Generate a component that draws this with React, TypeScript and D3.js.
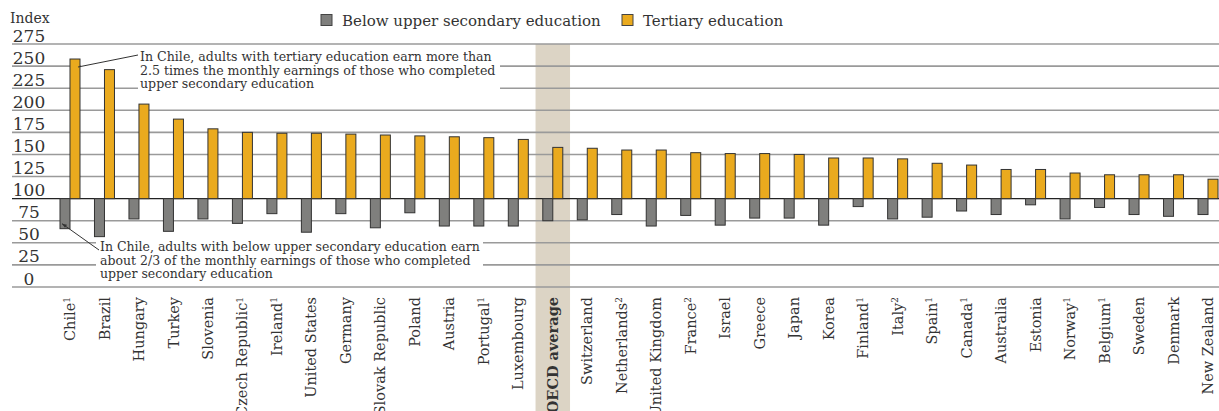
import * as d3 from 'd3';

const countries = [
  'Chile', 'Brazil', 'Hungary', 'Turkey', 'Slovenia', 'Czech Republic', 'Ireland',
  'United States', 'Germany', 'Slovak Republic', 'Poland', 'Austria', 'Portugal',
  'Luxembourg', 'OECD average', 'Switzerland', 'Netherlands', 'United Kingdom', 'France',
  'Israel', 'Greece', 'Japan', 'Korea', 'Finland', 'Italy', 'Spain', 'Canada', 'Australia',
  'Estonia', 'Norway', 'Belgium', 'Sweden', 'Denmark', 'New Zealand',
];
const notes = [
  '1', '', '', '', '', '1', '1', '', '', '', '', '', '1', '', '', '', '2', '', '2',
  '', '', '', '', '1', '2', '1', '1', '', '', '1', '1', '', '', '',
];
const tertiary = [
  258, 246, 207, 190, 179, 175, 174, 174, 173, 172, 171, 170, 169, 167, 158, 157, 155,
  155, 152, 151, 151, 150, 146, 146, 145, 140, 138, 133, 133, 129, 127, 127, 127, 122,
];
const belowUpper = [
  66, 57, 77, 63, 77, 72, 83, 62, 83, 67, 84, 69, 69, 69, 75, 76, 82, 69, 81, 70, 78, 78,
  70, 91, 77, 79, 86, 82, 93, 77, 90, 82, 80, 82,
];
const yTicks = [0, 25, 50, 75, 100, 125, 150, 175, 200, 225, 250, 275];
const seriesKeys = ['below', 'tertiary'];
const legendLabels = ['Below upper secondary education', 'Tertiary education'];
const note1 = [
  'In Chile, adults with tertiary education earn more than',
  '2.5 times the monthly earnings of those who completed',
  'upper secondary education',
];
const note2 = [
  'In Chile, adults with below upper secondary education earn',
  'about 2/3 of the monthly earnings of those who completed',
  'upper secondary education',
];

const W = 1219;
const H = 411;
const FONT = '"DejaVu Serif", serif';
const GOLD = '#EAAA1E';
const GREY = '#7F7F7D';
const TEXT = '#333';

export default function App() {
  const x = d3.scaleBand(countries, [52.75, 1225.25]);
  const bw = x.bandwidth();
  const xs = d3.scaleBand(seriesKeys, [bw / 2 - 10, bw / 2 + 10]);
  const y = d3.scaleLinear([0, 275], [287, 44]);
  const base = y(100);
  const colors = [GREY, GOLD];
  const oecd = x('OECD average')!;

  return (
    <svg width={W} height={H} style={{ position: 'absolute', left: 0, top: 0, display: 'block' }} fontFamily={FONT}>
      <rect x={oecd} y={y(275)} width={bw} height={H - y(275)} fill="#DCD4C5" />

      {yTicks.map((t) => (
        <g key={t}>
          <line x1={12} x2={W} y1={y(t)} y2={y(t)} stroke={t === 100 ? '#222' : '#9a9a9a'} strokeWidth={t === 100 ? 1.2 : 1.6} />
          <text x={29} y={y(t) - 2.5} textAnchor="middle" fontSize={17} fill={TEXT}>{t}</text>
        </g>
      ))}
      <text x={10} y={23} fontSize={14} fill={TEXT}>Index</text>

      {/* white boxes behind annotations */}
      <rect x={81} y={60} width={419} height={12} fill="#fff" />
      <rect x={138} y={46} width={362} height={47} fill="#fff" />
      <rect x={96} y={236} width={387} height={46} fill="#fff" />

      {countries.map((c, i) => (
        <g key={c} transform={`translate(${x(c)},0)`}>
          <rect x={xs('below')} y={base} width={xs.bandwidth()} height={y(belowUpper[i]) - base}
            fill={GREY} stroke="#333" strokeWidth={1} />
          <rect x={xs('tertiary')} y={y(tertiary[i])} width={xs.bandwidth()} height={base - y(tertiary[i])}
            fill={GOLD} stroke="#333" strokeWidth={1} />
          <text transform={`translate(${bw / 2},297) rotate(-90)`} dy="0.35em" textAnchor="end"
            fontSize={14.5} fill={TEXT} fontWeight={c === 'OECD average' ? 'bold' : 'normal'}>
            {c}
            {notes[i] && <tspan fontSize={9} dy="-0.55em">{notes[i]}</tspan>}
          </text>
        </g>
      ))}

      {/* annotations */}
      <line x1={x('Chile')! + xs('tertiary')! + 8} y1={y(tertiary[0]) + 8} x2={138} y2={55} stroke="#333" strokeWidth={1} />
      <g fontSize={12.6} fill={TEXT}>
        {note1.map((s, i) => (
          <text key={i} x={140} y={61 + i * 13.5}>{s}</text>
        ))}
      </g>
      <line x1={x('Chile')! + xs('below')! + 2} y1={y(belowUpper[0]) - 5} x2={99} y2={250} stroke="#333" strokeWidth={1} />
      <path d={`M${x('Chile')! + xs('below')! + 2},${y(belowUpper[0]) - 5} l5,1 l-2,3 z`} fill="#333" />
      <g fontSize={12.5} fill={TEXT}>
        {note2.map((s, i) => (
          <text key={i} x={100} y={251 + i * 13.5}>{s}</text>
        ))}
      </g>

      {/* legend */}
      {legendLabels.map((l, i) => {
        const lx = [321, 622][i];
        return (
          <g key={l}>
            <rect x={lx} y={14.5} width={11} height={11} fill={colors[i]} stroke="#444" strokeWidth={1} />
            <text x={lx + 21} y={26} fontSize={15} fill={TEXT}>{l}</text>
          </g>
        );
      })}
    </svg>
  );
}
